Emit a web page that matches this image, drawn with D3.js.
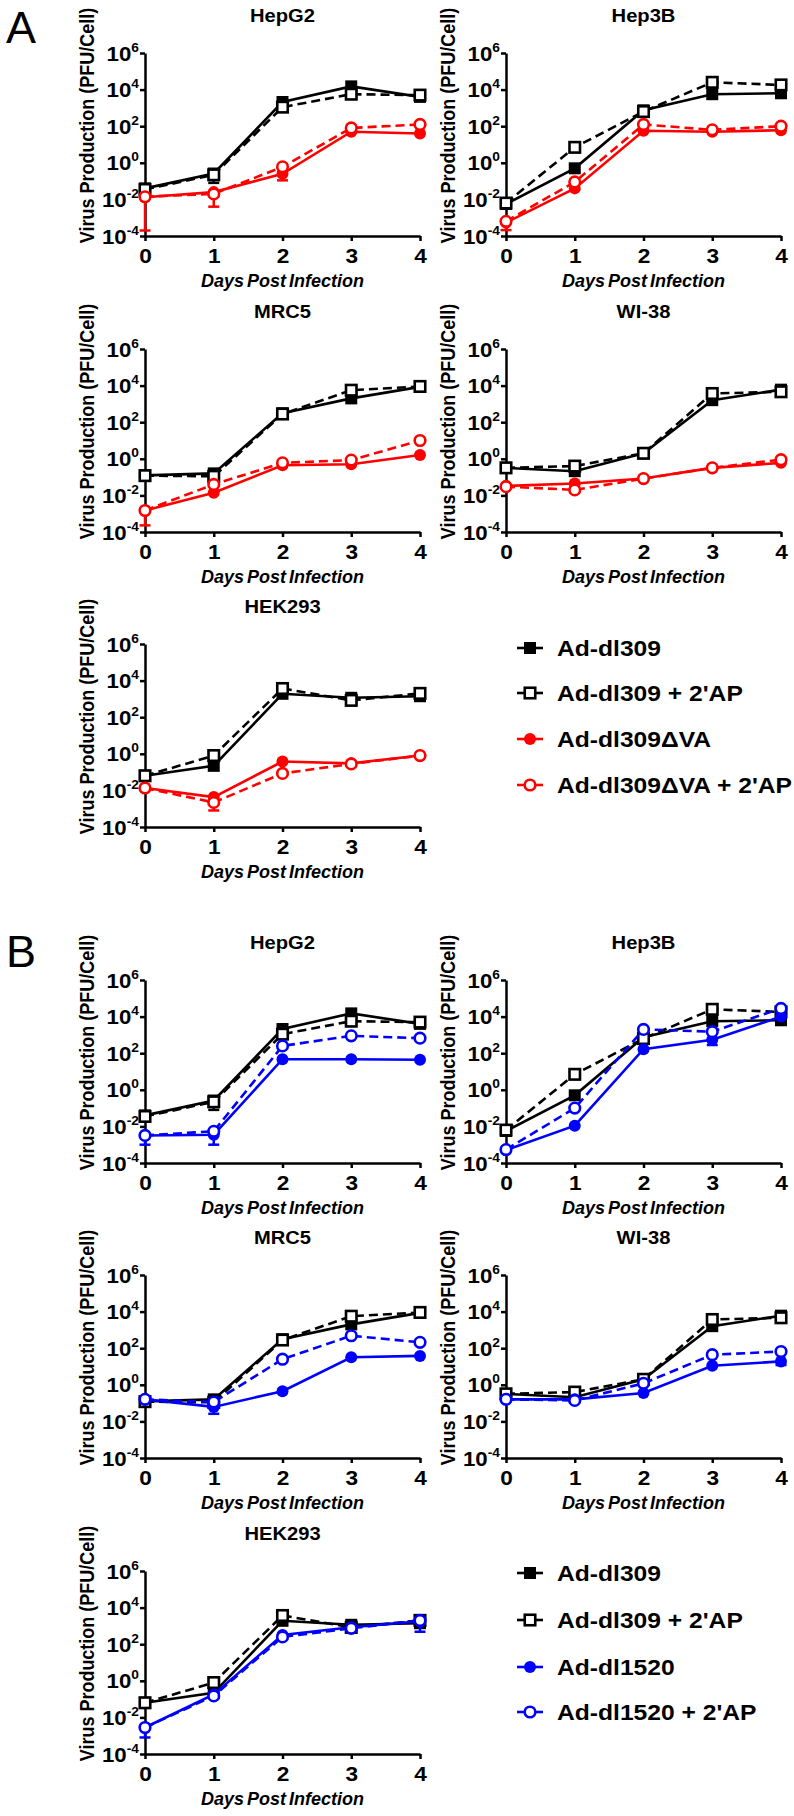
<!DOCTYPE html>
<html><head><meta charset="utf-8">
<script src="https://cdn.jsdelivr.net/npm/d3@7"></script>
<style>html,body{margin:0;padding:0;background:#fff;} svg{display:block;}</style>
</head><body>
<svg id="chart" width="794" height="1816"></svg>
<script>
const cellLines = ["HepG2","Hep3B","MRC5","WI-38","HEK293"];
const days = [0,1,2,3,4];
const yTicks = [1e-4,1e-2,1e0,1e2,1e4,1e6];
const yTickExp = ["-4","-2","0","2","4","6"];

// values (PFU/cell), rows in cellLines order, columns = days
const dl309 = [
 [0.04, 0.26, 2100, 15000, 4000],
 [0.0056, 0.5, 740, 5600, 6300],
 [0.125, 0.16, 310, 2000, 8500],
 [0.32, 0.21, 2, 1600, 6000],
 [0.063, 0.22, 1900, 1150, 1400]];
const dl309AP = [
 [0.035, 0.22, 1100, 5600, 5000],
 [0.0063, 7, 630, 25000, 18000],
 [0.12, 0.11, 280, 5600, 9000],
 [0.32, 0.4, 2, 3700, 4600],
 [0.063, 0.8, 3700, 830, 2000]];
const dVA = [
 [0.013, 0.025, 0.25, 50, 40],
 [0.00054, 0.04, 56, 50, 60],
 [0.0015, 0.014, 0.44, 0.5, 1.6],
 [0.033, 0.045, 0.083, 0.32, 0.6],
 [0.0135, 0.0043, 0.38, 0.3, 0.8]];
const dVAAP = [
 [0.014, 0.02, 0.6, 80, 125],
 [0.00063, 0.09, 125, 63, 100],
 [0.0015, 0.04, 0.6, 0.85, 10],
 [0.03, 0.02, 0.083, 0.32, 0.9],
 [0.0135, 0.0022, 0.085, 0.28, 0.8]];
const dl1520 = [
 [0.0032, 0.0035, 47, 47, 44],
 [0.0005, 0.011, 165, 540, 10000],
 [0.16, 0.062, 0.45, 32, 38],
 [0.16, 0.16, 0.36, 11, 19],
 [0.0028, 0.18, 320, 850, 1800]];
const dl1520AP = [
 [0.0032, 0.0054, 250, 890, 660],
 [0.00054, 0.1, 2000, 1500, 28000],
 [0.16, 0.115, 25, 480, 210],
 [0.16, 0.14, 1.2, 44, 66],
 [0.0028, 0.15, 250, 740, 2000]];

// lower ends of error bars (null = hidden under symbol)
const dl309Lo = [
 [null, 0.08, null, null, null],
 [null, null, null, null, null],
 [null, null, null, null, null],
 [null, null, null, null, null],
 [null, null, null, null, null]];
const dVALo = [
 [0.0002, 0.004, 0.11, null, null],
 [0.00021, null, null, null, null],
 [0.00023, null, null, null, null],
 [null, null, null, null, null],
 [null, null, null, null, null]];
const dVAAPLo = [
 [null, null, null, null, null],
 [null, null, null, null, null],
 [null, null, null, null, null],
 [null, null, null, null, null],
 [null, 0.0008, null, null, null]];
const dl1520Lo = [
 [0.001, 0.001, null, null, null],
 [null, null, null, 280, null],
 [null, 0.026, null, null, null],
 [null, null, null, null, 12],
 [0.0008, null, null, null, 480]];
const noLo = [
 [null, null, null, null, null],
 [null, null, null, null, null],
 [null, null, null, null, null],
 [null, null, null, null, null],
 [null, null, null, null, null]];

const figA = [
 {name:"Ad-dl309", data:dl309, lo:dl309Lo, color:"#000000", dashed:false, shape:"square", filled:true},
 {name:"Ad-dl309 + 2'AP", data:dl309AP, lo:noLo, color:"#000000", dashed:true, shape:"square", filled:false},
 {name:"Ad-dl309\u0394VA", data:dVA, lo:dVALo, color:"#ff0000", dashed:false, shape:"circle", filled:true},
 {name:"Ad-dl309\u0394VA + 2'AP", data:dVAAP, lo:dVAAPLo, color:"#ff0000", dashed:true, shape:"circle", filled:false}
];
const figB = [
 {name:"Ad-dl309", data:dl309, lo:dl309Lo, color:"#000000", dashed:false, shape:"square", filled:true},
 {name:"Ad-dl309 + 2'AP", data:dl309AP, lo:noLo, color:"#000000", dashed:true, shape:"square", filled:false},
 {name:"Ad-dl1520", data:dl1520, lo:dl1520Lo, color:"#0000ff", dashed:false, shape:"circle", filled:true},
 {name:"Ad-dl1520 + 2'AP", data:dl1520AP, lo:noLo, color:"#0000ff", dashed:true, shape:"circle", filled:false}
];

const FONT = "'Liberation Sans', Arial, Helvetica, sans-serif";
const svg = d3.select("#chart");
const colX = [145, 506];
const PW = 275, PH = 183;
const rowTopsA = [53, 349, 644];
const rowTopsB = [980, 1275, 1571];
const slots = [[0,0],[0,1],[1,0],[1,1],[2,0]];

// text placed at (x,y) and stretched horizontally by sx
function stext(g, x, y, sx, size, txt, anchor, italic) {
  return g.append("text").attr("transform", `translate(${x},${y}) scale(${sx},1)`)
    .attr("text-anchor", anchor || "start").attr("font-family", FONT).attr("font-weight", "bold")
    .attr("font-style", italic ? "italic" : null).attr("font-size", size).text(txt);
}

function drawMarker(g, s, cx, cy) {
  if (s.shape === "square") {
    const a = s.filled ? 12 : 10.5;
    g.append("rect").attr("x", cx - a/2).attr("y", cy - a/2).attr("width", a).attr("height", a)
      .attr("fill", s.filled ? s.color : "#fff").attr("stroke", s.color).attr("stroke-width", s.filled ? 0 : 2.6);
  } else {
    g.append("circle").attr("cx", cx).attr("cy", cy).attr("r", s.filled ? 6 : 5.3)
      .attr("fill", s.filled ? s.color : "#fff").attr("stroke", s.color).attr("stroke-width", s.filled ? 0 : 2.6);
  }
}

function drawPanel(series, idx, top, left) {
  const x = d3.scaleLinear().domain([0,4]).range([left, left + PW]);
  const y = d3.scaleLog().domain([1e-4, 1e6]).range([top + PH, top]);
  const g = svg.append("g");

  // title
  stext(g, left + PW/2, top - 31, 1.12, 18, cellLines[idx], "middle");

  // y axis
  const ya = g.append("g").attr("transform", `translate(${left},0)`)
    .call(d3.axisLeft(y).tickValues(yTicks).tickSize(5).tickSizeOuter(0).tickFormat(""));
  ya.select(".domain").attr("stroke-width", 2.5);
  ya.selectAll(".tick line").attr("stroke-width", 2.5);
  ya.selectAll(".tick").each(function(d, i) {
    const t = d3.select(this).append("text").attr("transform", "translate(-6,7) scale(1.06,1)")
      .attr("text-anchor", "end").attr("fill", "#000")
      .attr("font-family", FONT).attr("font-weight", "bold").attr("font-size", 21);
    t.append("tspan").text("10");
    t.append("tspan").attr("dy", -9).attr("font-size", 13).text(yTickExp[i]);
  });

  // x axis
  const xa = g.append("g").attr("transform", `translate(0,${top + PH})`)
    .call(d3.axisBottom(x).tickValues(days).tickSize(5).tickSizeOuter(0).tickFormat(d3.format("d")));
  xa.select(".domain").attr("stroke-width", 2.5);
  xa.selectAll(".tick line").attr("stroke-width", 2.5);
  xa.selectAll(".tick text").attr("y", 0).attr("dy", 0).attr("transform", "translate(0,27) scale(1.08,1)")
    .attr("font-family", FONT).attr("font-weight", "bold").attr("font-size", 21).attr("fill", "#000");

  // axis titles
  stext(g, left + PW/2, top + PH + 51, 1.0, 18, "Days Post Infection", "middle", true)
    .attr("word-spacing", -2);
  g.append("text").attr("transform", `translate(${left - 51},${top + PH/2 - 19}) scale(1.15,1) rotate(-90)`)
    .attr("text-anchor", "middle").attr("font-family", FONT).attr("font-weight", "bold")
    .attr("font-size", 18).text("Virus Production (PFU/Cell)");

  // series
  const line = d3.line().x((d, i) => x(days[i])).y(d => y(d));
  series.forEach(s => {
    const vals = s.data[idx];
    const sg = g.append("g");
    sg.append("path").attr("d", line(vals)).attr("fill", "none").attr("stroke", s.color)
      .attr("stroke-width", 2.6).attr("stroke-dasharray", s.dashed ? "9,5" : null);
    s.lo[idx].forEach((lo, i) => {
      if (lo === null) return;
      const cx = x(days[i]);
      sg.append("line").attr("x1", cx).attr("x2", cx).attr("y1", y(vals[i])).attr("y2", y(lo))
        .attr("stroke", s.color).attr("stroke-width", 2.5);
      sg.append("line").attr("x1", cx - 5.5).attr("x2", cx + 5.5).attr("y1", y(lo)).attr("y2", y(lo))
        .attr("stroke", s.color).attr("stroke-width", 2.5);
    });
    vals.forEach((v, i) => drawMarker(sg, s, x(days[i]), y(v)));
  });
}

function drawLegend(series, ys) {
  series.forEach((s, i) => {
    const g = svg.append("g");
    const cy = ys[i];
    g.append("line").attr("x1", 517).attr("x2", 543).attr("y1", cy).attr("y2", cy)
      .attr("stroke", s.color).attr("stroke-width", 2.6);
    drawMarker(g, s, 530, cy);
    stext(g, 557, cy + 8, 1.12, 22, s.name, "start");
  });
}

function drawFigure(series, tops, letter, letterY, legendYs) {
  cellLines.forEach((c, idx) => {
    const [r, col] = slots[idx];
    drawPanel(series, idx, tops[r], colX[col]);
  });
  drawLegend(series, legendYs);
  svg.append("text").attr("x", 6).attr("y", letterY).attr("font-family", FONT)
    .attr("font-size", 45).text(letter);
}

drawFigure(figA, rowTopsA, "A", 43, [648, 693, 739, 785]);
drawFigure(figB, rowTopsB, "B", 967, [1573, 1620, 1667, 1712]);
</script>
</body></html>
